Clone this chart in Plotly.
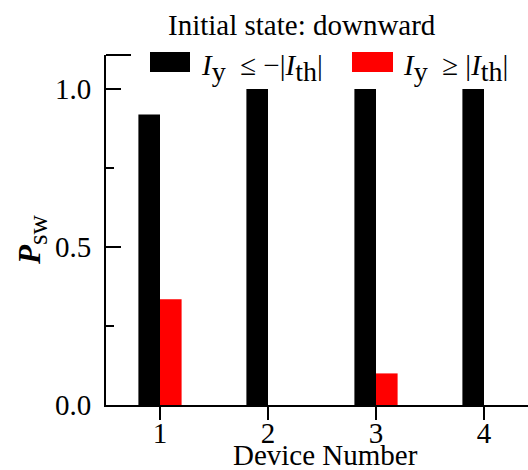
import plotly.graph_objects as go

# Switching probability per device for the two current-pulse polarities
devices = [1, 2, 3, 4]
p_sw_negative = [0.92, 1.0, 1.0, 1.0]   # I_y <= -|I_th|
p_sw_positive = [0.335, 0.0, 0.10, 0.0]  # I_y >= |I_th|

SUB = '<sub><span style="font-size:28px">{}</span></sub>'
name_negative = "<i>I</i>" + SUB.format("y") + "  ≤ −|<i>I</i>" + SUB.format("th") + "|"
name_positive = "<i>I</i>" + SUB.format("y") + "  ≥ |<i>I</i>" + SUB.format("th") + "|"

FONT = "Liberation Serif"
W, H = 528, 470
ML, MT, MB = 106, 55, 65
plot_w = W - ML
plot_h = H - MT - MB
px_per_dev = 108.0
x_range = [0.5, 0.5 + plot_w / px_per_dev]
y_range = [0, 1.108]


def px_x(px):
    return (px - ML) / plot_w


def px_y(py):
    return (H - MB - py) / plot_h


fig = go.Figure()
fig.add_bar(x=devices, y=p_sw_negative, marker=dict(color="#000000", line=dict(width=0)),
            name="I_y <= -|I_th|", showlegend=False)
fig.add_bar(x=devices, y=p_sw_positive, marker=dict(color="#ff0000", line=dict(width=0)),
            name="I_y >= |I_th|", showlegend=False)

axis_common = dict(showline=True, linecolor="black", linewidth=2, showgrid=False,
                   zeroline=False, tickcolor="black", tickwidth=2,
                   tickfont=dict(family=FONT, size=29, color="black"))

fig.update_layout(
    width=W, height=H,
    margin=dict(l=ML, r=0, t=MT, b=MB),
    paper_bgcolor="white", plot_bgcolor="white",
    barmode="group", bargap=0.6, bargroupgap=0,
    font=dict(family=FONT, color="black"),
    xaxis=dict(range=x_range, tickvals=devices, ticks="outside", ticklen=13,
               ticklabelstandoff=-12, **axis_common),
    yaxis=dict(range=y_range, tickvals=[0, 0.5, 1.0], ticktext=["0.0", "0.5", "1.0"],
               ticks="inside", ticklen=15, ticklabelstandoff=7,
               minor=dict(tickvals=[0.25, 0.75], ticks="inside", ticklen=8,
                          tickwidth=2, tickcolor="black"),
               **axis_common),
)

# top frame segment left of the legend
fig.add_shape(type="line", xref="paper", yref="paper", x0=0, x1=px_x(131), y0=1, y1=1,
              line=dict(color="black", width=2))

# legend swatches and labels
fig.add_shape(type="rect", xref="paper", yref="paper", x0=px_x(150), x1=px_x(190),
              y0=px_y(72), y1=px_y(52), fillcolor="#000000", line=dict(width=0))
fig.add_shape(type="rect", xref="paper", yref="paper", x0=px_x(352), x1=px_x(393),
              y0=px_y(72), y1=px_y(52), fillcolor="#ff0000", line=dict(width=0))
for xpos, label in [(199, name_negative), (401, name_positive)]:
    fig.add_annotation(text=label, xref="paper", yref="paper", x=px_x(xpos), y=px_y(68),
                       xanchor="left", yanchor="middle", showarrow=False,
                       font=dict(family=FONT, size=29, color="black"))

# title
fig.add_annotation(text="Initial state: downward", xref="paper", yref="paper",
                   x=px_x(302), y=px_y(25), xanchor="center", yanchor="middle",
                   showarrow=False, font=dict(family=FONT, size=29, color="black"))

# axis titles
fig.add_annotation(text="Device Number", xref="paper", yref="paper",
                   x=px_x(325), y=px_y(455), xanchor="center", yanchor="middle",
                   showarrow=False, font=dict(family=FONT, size=29, color="black"))
fig.add_annotation(text='<b><i>P</i></b><sub><span style="font-size:27px">sw</span></sub>',
                   xref="paper", yref="paper",
                   x=px_x(32), y=px_y(240), xanchor="center", yanchor="middle",
                   textangle=-90, showarrow=False,
                   font=dict(family=FONT, size=31, color="black"))

fig.write_html("out.html")
